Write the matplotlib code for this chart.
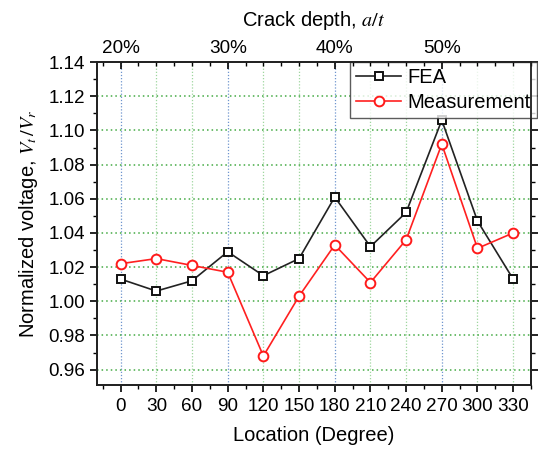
import numpy as np
import matplotlib
matplotlib.use("Agg")
import matplotlib.pyplot as plt
from matplotlib.ticker import MultipleLocator, FormatStrFormatter

plt.rcParams['font.family'] = ['Liberation Sans', 'DejaVu Sans']
plt.rcParams['mathtext.fontset'] = 'stix'

location = [0, 30, 60, 90, 120, 150, 180, 210, 240, 270, 300, 330]
fea = [1.013, 1.006, 1.012, 1.029, 1.015, 1.025, 1.061, 1.032, 1.052, 1.106, 1.047, 1.013]
measurement = [1.022, 1.025, 1.021, 1.017, 0.968, 1.003, 1.033, 1.011, 1.036, 1.092, 1.031, 1.040]
depth_pos = [0, 90, 180, 270]
depth_labels = ['20%', '30%', '40%', '50%']
yticks = [0.96, 0.98, 1.00, 1.02, 1.04, 1.06, 1.08, 1.10, 1.12, 1.14]

fig = plt.figure(figsize=(5.38, 4.53), dpi=100)
ax = fig.add_axes([0.180, 0.150, 0.807, 0.713])

xlim = (-20, 345)
ax.set_xlim(*xlim)
ax.set_ylim(0.951, 1.14)

# grid
for x in location:
    if x in depth_pos:
        ax.axvline(x, color='#6f95cf', linestyle=(0, (1, 1.5)), linewidth=0.9, zorder=0.5)
    else:
        ax.axvline(x, color='#9fd79f', linestyle=(0, (1, 1.5)), linewidth=0.9, zorder=0.5)
for y in yticks[:-1]:
    ax.axhline(y, color='#44aa44', linestyle=(0, (1, 2)), linewidth=1.1, zorder=0.5)

ax.plot(location, fea, color='#222222', linewidth=1.2, marker='s', markersize=6,
        markerfacecolor='white', markeredgecolor='#111111', markeredgewidth=1.4,
        label='FEA', zorder=3)
ax.plot(location, measurement, color='#ff2020', linewidth=1.2, marker='o', markersize=7,
        markerfacecolor='white', markeredgecolor='#ff1a1a', markeredgewidth=1.4,
        label='Measurement', zorder=3)

ax.set_xticks(location)
ax.xaxis.set_minor_locator(MultipleLocator(15))
ax.set_yticks(yticks)
ax.yaxis.set_major_formatter(FormatStrFormatter('%.2f'))
ax.yaxis.set_minor_locator(MultipleLocator(0.01))

ax.tick_params(axis='both', which='major', labelsize=13.6, direction='out', length=5, width=1.2)
ax.tick_params(axis='both', which='minor', direction='out', length=3, width=1.0)
ax.tick_params(axis='y', which='both', right=True)
ax.tick_params(axis='x', which='major', pad=4)

for s in ax.spines.values():
    s.set_linewidth(1.3)
    s.set_color('#222222')

ax.set_xlabel('Location (Degree)', fontsize=14.5, labelpad=8)
ax.set_ylabel(r'Normalized voltage, $V_t\,/V_r$', fontsize=14.5, labelpad=6)

top = ax.twiny()
top.set_xlim(*xlim)
top.set_xticks(depth_pos)
top.set_xticklabels(depth_labels)
top.xaxis.set_minor_locator(MultipleLocator(15))
top.tick_params(axis='x', which='major', labelsize=13.6, direction='in', length=5, width=1.2, pad=4)
top.tick_params(axis='x', which='minor', direction='in', length=3, width=1.0)
top.set_xlabel(r'Crack depth, $a/t$', fontsize=14.5, labelpad=10)
for s in top.spines.values():
    s.set_linewidth(1.3)
    s.set_color('#222222')

leg = ax.legend(loc='upper right', bbox_to_anchor=(1.014, 1.0), fontsize=14.5, frameon=True,
                fancybox=False, edgecolor='#333333', borderaxespad=0.0, handlelength=2.2,
                handletextpad=0.35, borderpad=0.3, labelspacing=0.3)
leg.get_frame().set_linewidth(1.0)
leg.set_zorder(10)

fig.savefig('out.png', dpi=100)
